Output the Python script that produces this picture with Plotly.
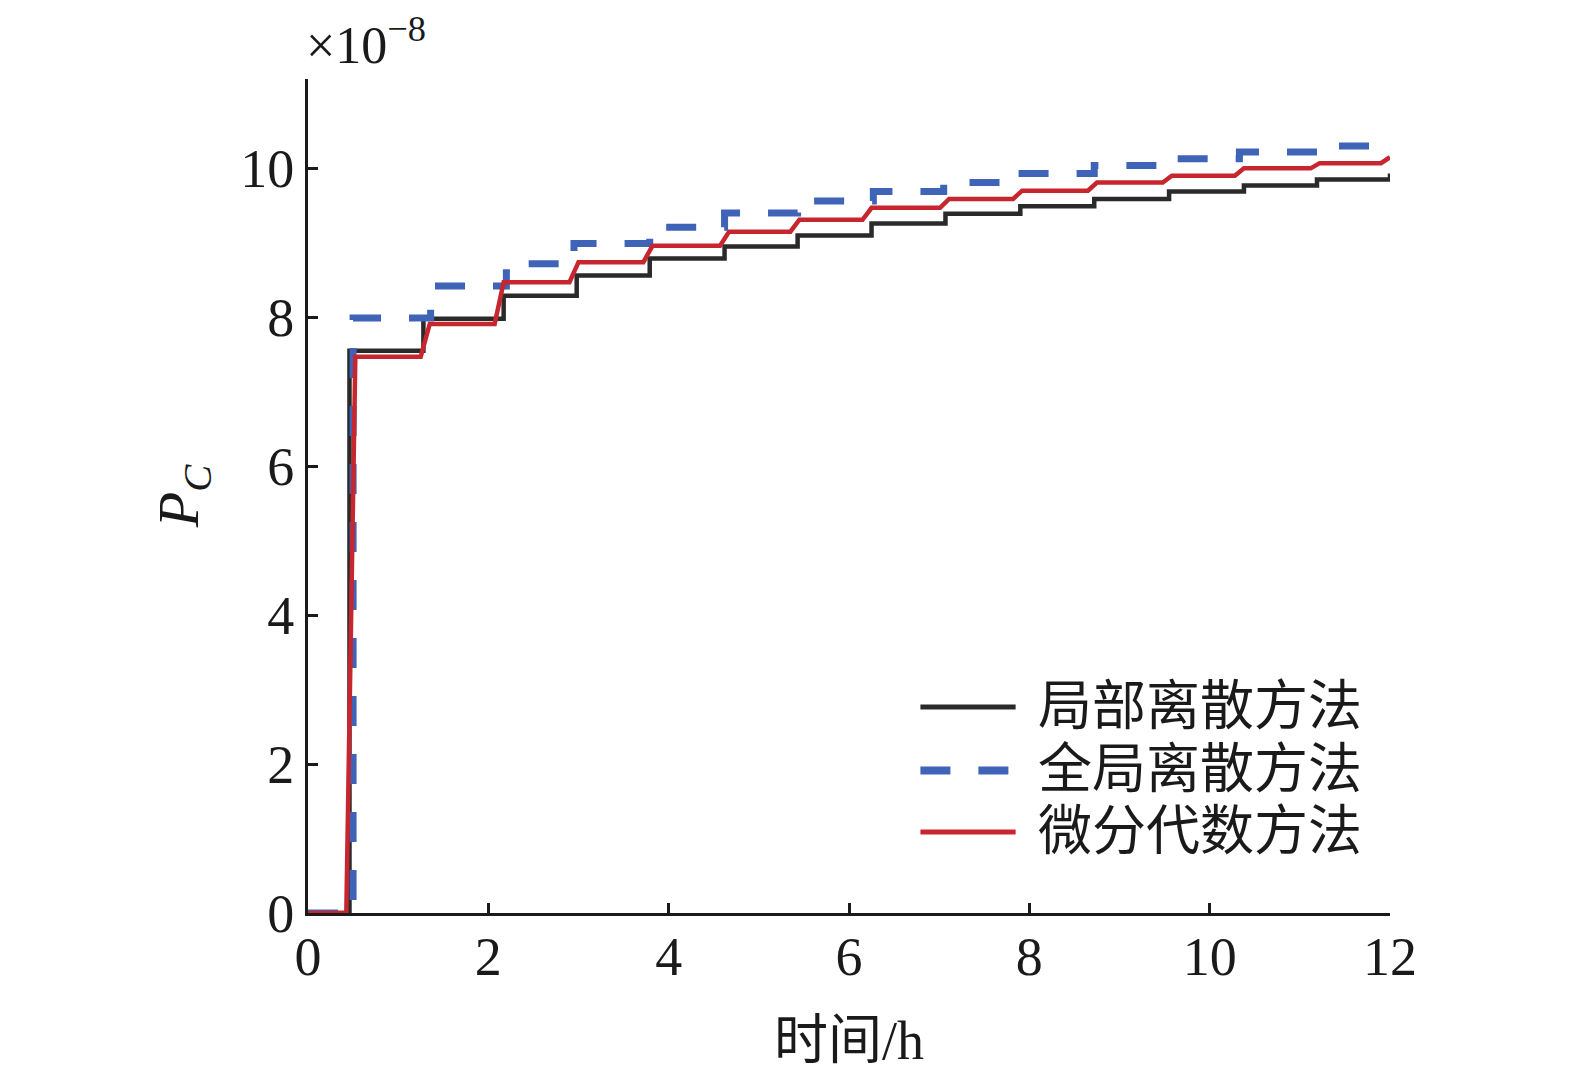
import plotly.graph_objects as go

# 局部离散方法 (black, step)
local_t = [0, 0.46, 1.28, 2.17, 2.98, 3.79, 4.62, 5.43, 6.25, 7.07, 7.90, 8.72, 9.55, 10.38, 11.19, 12.0]
local_p = [0, 7.55, 7.98, 8.29, 8.56, 8.79, 8.95, 9.10, 9.26, 9.39, 9.49, 9.59, 9.69, 9.77, 9.85, 9.93]

# 全局离散方法 (blue dashed, step)
global_t = [0, 0.50, 1.36, 2.20, 2.95, 3.79, 4.62, 5.43, 6.27, 7.05, 7.87, 8.72, 9.50, 10.33, 11.20, 12.0]
global_p = [0, 7.99, 8.42, 8.72, 8.99, 9.21, 9.40, 9.56, 9.69, 9.81, 9.93, 10.04, 10.13, 10.22, 10.30, 10.30]

# 微分代数方法 (red, short ramps at each step)
dae_t = [0.475, 1.30, 2.12, 2.95, 3.77, 4.62, 5.40, 6.20, 7.06, 7.87, 8.70, 9.53, 10.33, 11.17, 11.95]
dae_p = [0, 7.47, 7.91, 8.47, 8.74, 8.96, 9.15, 9.31, 9.47, 9.59, 9.70, 9.81, 9.90, 10.00, 10.07, 10.15]

names = ["局部离散方法", "全局离散方法", "微分代数方法"]
yticks = [0, 2, 4, 6, 8, 10]
xticks = [0, 2, 4, 6, 8, 10, 12]

BLACK = "#2a2a2a"
BLUE = "#3f63b7"
RED = "#c8262f"
INK = "#1a1a1a"
FONT = "Liberation Serif, Noto Sans CJK SC"

# build red ramp path
ramp = 0.05
rx, ry = [0.0], [dae_p[0]]
for i, tc in enumerate(dae_t):
    rx += [tc - ramp, tc + ramp]
    ry += [dae_p[i], dae_p[i + 1]]
rx[-1] = min(rx[-1], 12.0)

fig = go.Figure()
fig.add_trace(go.Scatter(x=local_t, y=local_p, mode="lines", line_shape="hv",
                         line=dict(color=BLACK, width=4.5), name=names[0]))
fig.add_trace(go.Scatter(x=global_t, y=global_p, mode="lines", line_shape="hv",
                         line=dict(color=BLUE, width=7, dash="30px,28px"), name=names[1]))
fig.add_trace(go.Scatter(x=rx, y=ry, mode="lines",
                         line=dict(color=RED, width=4.5), name=names[2]))

# hand-made legend (long line samples like the original)
rows = [0.247, 0.171, 0.097]
styles = [dict(color=BLACK, width=5), dict(color=BLUE, width=8, dash="30px,28px"), dict(color=RED, width=5)]
for yy, st, nm in zip(rows, styles, names):
    fig.add_shape(type="line", xref="paper", yref="paper", x0=0.566, x1=0.654, y0=yy, y1=yy, line=st)
    fig.add_annotation(xref="paper", yref="paper", x=0.673, y=yy, text=nm, showarrow=False,
                       xanchor="left", yanchor="middle", font=dict(family=FONT, size=54, color=INK))

fig.add_annotation(xref="paper", yref="paper", x=-0.004, y=1.004, text="×10<sup>−8</sup>", showarrow=False,
                   xanchor="left", yanchor="bottom", font=dict(family=FONT, size=52, color=INK))

axis_common = dict(showline=True, linecolor=INK, linewidth=3, ticks="inside", ticklen=10,
                   tickwidth=3, tickcolor=INK, showgrid=False, zeroline=False, automargin=False,
                   tickfont=dict(family=FONT, size=54, color=INK))

fig.update_layout(
    width=1575, height=1075,
    margin=dict(l=300, r=193, t=71, b=170),
    paper_bgcolor="white", plot_bgcolor="white",
    showlegend=False,
    xaxis=dict(range=[0, 12], tickvals=xticks, ticklabelstandoff=-6,
               title=dict(text="时间/h", font=dict(family=FONT, size=54, color=INK), standoff=36),
               **axis_common),
    yaxis=dict(range=[0, 11.2], tickvals=yticks, ticklabelstandoff=0,
               title=dict(text="<i>P</i><sub><i>C</i></sub>", font=dict(family=FONT, size=58, color=INK),
                          standoff=23),
               **axis_common),
)

fig.write_html("out.html")
